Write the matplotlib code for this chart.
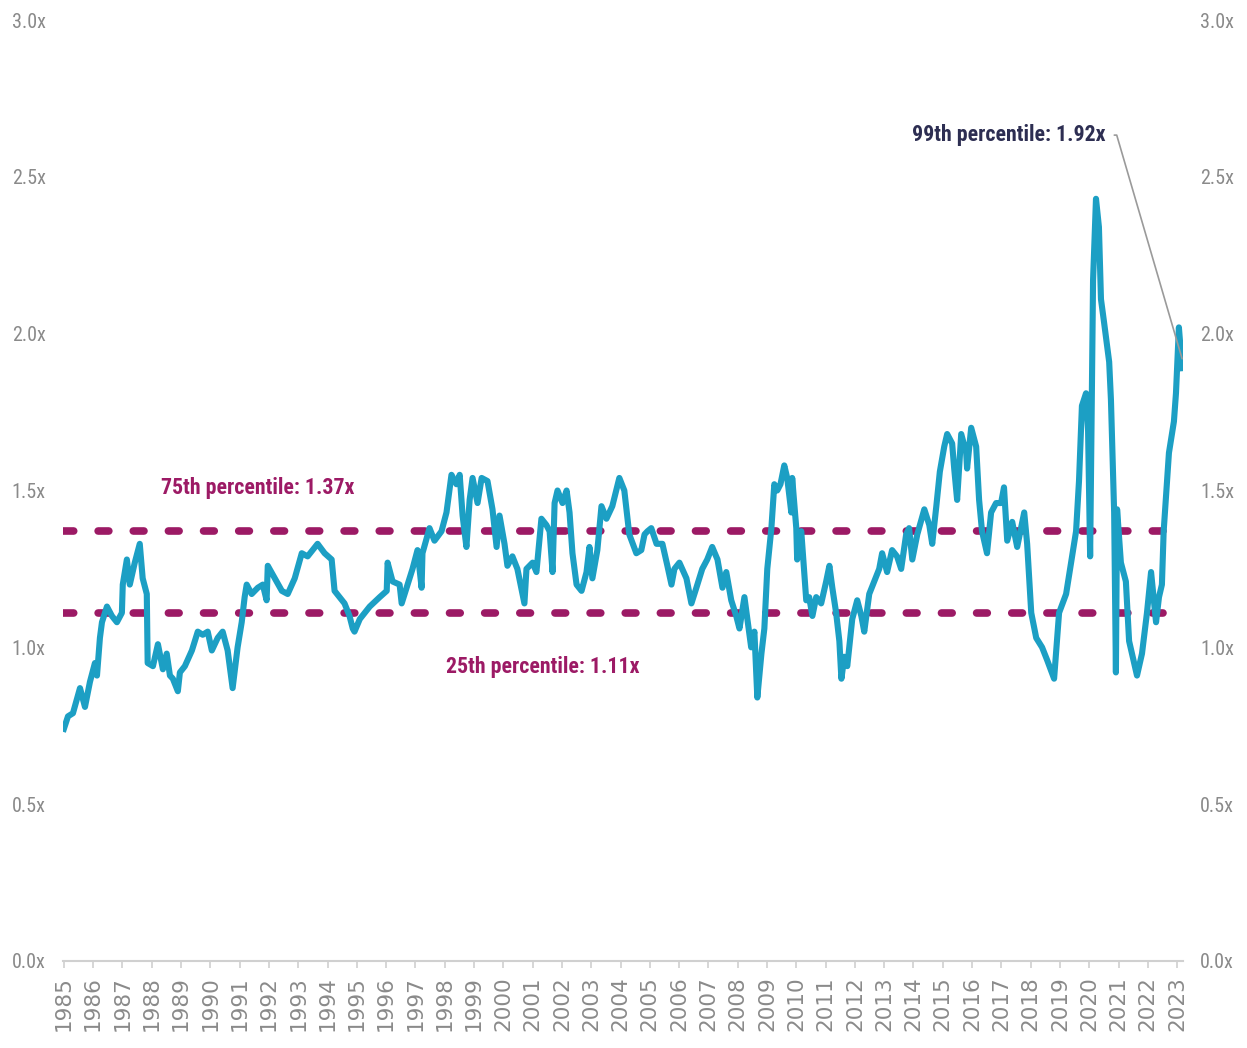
import matplotlib
matplotlib.use("Agg")
import matplotlib.pyplot as plt
from matplotlib import font_manager

# ---- data ----
years = [
    1985.00, 1985.14, 1985.31, 1985.55, 1985.72, 1985.89, 1986.06, 1986.13, 1986.23, 1986.30,
    1986.47, 1986.64, 1986.81, 1986.98, 1987.01, 1987.15, 1987.25, 1987.42, 1987.59, 1987.69,
    1987.83, 1987.86, 1988.04, 1988.21, 1988.38, 1988.51, 1988.62, 1988.72, 1988.89, 1988.96,
    1989.13, 1989.37, 1989.57, 1989.74, 1989.91, 1990.05, 1990.25, 1990.42, 1990.59, 1990.76,
    1990.93, 1991.07, 1991.17, 1991.24, 1991.41, 1991.62, 1991.79, 1991.92, 1991.96, 1992.20,
    1992.44, 1992.64, 1992.88, 1993.12, 1993.32, 1993.66, 1993.90, 1994.14, 1994.24, 1994.58,
    1994.75, 1994.86, 1994.92, 1995.10, 1995.44, 1995.78, 1996.02, 1996.05, 1996.22, 1996.46,
    1996.53, 1996.73, 1996.90, 1997.07, 1997.21, 1997.24, 1997.48, 1997.65, 1997.89, 1998.06,
    1998.23, 1998.40, 1998.51, 1998.61, 1998.74, 1998.85, 1998.95, 1999.12, 1999.26, 1999.46,
    1999.63, 1999.77, 1999.87, 2000.04, 2000.14, 2000.31, 2000.48, 2000.72, 2000.79, 2001.00,
    2001.13, 2001.30, 2001.47, 2001.58, 2001.68, 2001.75, 2001.85, 2002.02, 2002.16, 2002.26,
    2002.36, 2002.50, 2002.67, 2002.84, 2002.94, 2003.04, 2003.21, 2003.35, 2003.52, 2003.72,
    2003.96, 2004.13, 2004.30, 2004.54, 2004.71, 2004.82, 2004.92, 2005.05, 2005.23, 2005.43,
    2005.60, 2005.74, 2005.84, 2006.01, 2006.25, 2006.42, 2006.59, 2006.79, 2006.96, 2007.13,
    2007.31, 2007.48, 2007.61, 2007.78, 2007.95, 2008.06, 2008.23, 2008.33, 2008.46, 2008.57,
    2008.67, 2008.81, 2008.91, 2009.01, 2009.15, 2009.25, 2009.35, 2009.46, 2009.59, 2009.69,
    2009.83, 2009.86, 2010.00, 2010.03, 2010.17, 2010.34, 2010.44, 2010.55, 2010.68, 2010.85,
    2011.02, 2011.13, 2011.23, 2011.36, 2011.47, 2011.54, 2011.64, 2011.74, 2011.91, 2012.08,
    2012.22, 2012.32, 2012.49, 2012.66, 2012.83, 2012.93, 2013.10, 2013.27, 2013.44, 2013.58,
    2013.75, 2013.85, 2013.96, 2014.13, 2014.37, 2014.54, 2014.64, 2014.78, 2014.90, 2015.05,
    2015.15, 2015.32, 2015.39, 2015.49, 2015.63, 2015.80, 2015.83, 2015.97, 2016.14, 2016.24,
    2016.34, 2016.51, 2016.65, 2016.82, 2016.99, 2017.09, 2017.20, 2017.37, 2017.54, 2017.78,
    2017.88, 2018.02, 2018.19, 2018.39, 2018.56, 2018.80, 2018.97, 2019.21, 2019.38, 2019.55,
    2019.65, 2019.75, 2019.89, 2019.96, 2020.03, 2020.13, 2020.23, 2020.33, 2020.40, 2020.50,
    2020.68, 2020.74, 2020.85, 2020.91, 2020.95, 2021.08, 2021.25, 2021.36, 2021.53, 2021.63,
    2021.80, 2021.97, 2022.11, 2022.28, 2022.38, 2022.48, 2022.54, 2022.72, 2022.89, 2022.96,
    2023.06, 2023.17,
]
ratio = [
    0.74, 0.78, 0.79, 0.87, 0.81, 0.89, 0.95, 0.91, 1.03, 1.08,
    1.13, 1.10, 1.08, 1.11, 1.20, 1.28, 1.20, 1.27, 1.33, 1.22,
    1.17, 0.95, 0.94, 1.01, 0.93, 0.98, 0.91, 0.90, 0.86, 0.92,
    0.94, 0.99, 1.05, 1.04, 1.05, 0.99, 1.03, 1.05, 0.99, 0.87,
    1.00, 1.08, 1.16, 1.20, 1.17, 1.19, 1.20, 1.15, 1.26, 1.22,
    1.18, 1.17, 1.22, 1.30, 1.29, 1.33, 1.30, 1.28, 1.18, 1.14,
    1.10, 1.06, 1.05, 1.09, 1.13, 1.16, 1.18, 1.27, 1.21, 1.20,
    1.14, 1.20, 1.25, 1.31, 1.19, 1.30, 1.38, 1.34, 1.37, 1.43,
    1.55, 1.52, 1.55, 1.42, 1.32, 1.47, 1.54, 1.46, 1.54, 1.53,
    1.44, 1.32, 1.42, 1.33, 1.26, 1.29, 1.25, 1.14, 1.25, 1.27,
    1.24, 1.41, 1.39, 1.37, 1.24, 1.46, 1.50, 1.46, 1.50, 1.43,
    1.30, 1.20, 1.18, 1.24, 1.32, 1.22, 1.31, 1.45, 1.41, 1.45,
    1.54, 1.50, 1.36, 1.30, 1.31, 1.36, 1.37, 1.38, 1.33, 1.33,
    1.26, 1.20, 1.25, 1.27, 1.22, 1.14, 1.19, 1.25, 1.28, 1.32,
    1.28, 1.19, 1.24, 1.15, 1.10, 1.06, 1.16, 1.09, 1.00, 1.05,
    0.84, 0.98, 1.06, 1.25, 1.38, 1.52, 1.50, 1.52, 1.58, 1.54,
    1.43, 1.54, 1.38, 1.28, 1.37, 1.15, 1.16, 1.10, 1.16, 1.14,
    1.21, 1.26, 1.19, 1.11, 1.02, 0.90, 0.97, 0.94, 1.09, 1.15,
    1.10, 1.05, 1.17, 1.21, 1.25, 1.30, 1.24, 1.31, 1.29, 1.25,
    1.36, 1.38, 1.28, 1.36, 1.44, 1.39, 1.33, 1.45, 1.56, 1.64,
    1.68, 1.65, 1.57, 1.47, 1.68, 1.62, 1.57, 1.70, 1.64, 1.47,
    1.37, 1.30, 1.43, 1.46, 1.46, 1.51, 1.34, 1.40, 1.32, 1.43,
    1.33, 1.11, 1.03, 1.00, 0.96, 0.90, 1.11, 1.17, 1.27, 1.37,
    1.53, 1.77, 1.81, 1.69, 1.29, 2.17, 2.43, 2.34, 2.11, 2.04,
    1.91, 1.79, 1.43, 0.92, 1.44, 1.27, 1.21, 1.02, 0.95, 0.91,
    0.98, 1.11, 1.24, 1.08, 1.16, 1.20, 1.37, 1.62, 1.72, 1.81,
    2.02, 1.89,
]
p75 = 1.37
p25 = 1.11
p99 = 1.92
tick_years = list(range(1985, 2024))
y_ticks = [0.0, 0.5, 1.0, 1.5, 2.0, 2.5, 3.0]
y_labels = ["0.0x", "0.5x", "1.0x", "1.5x", "2.0x", "2.5x", "3.0x"]

# ---- pick a condensed font if one is installed ----
cond_family, cond_stretch = "Liberation Sans", "normal"
_cands = []
for f in font_manager.fontManager.ttflist:
    st = str(f.stretch).lower()
    if ("Condensed" in f.name or "Narrow" in f.name
            or st in ("condensed", "semi-condensed", "extra-condensed")
            or (st.isdigit() and int(st) < 500)):
        _cands.append(f)
if _cands:
    pref = ["Roboto Condensed", "Liberation Sans Narrow", "Open Sans Condensed",
            "Noto Sans", "Open Sans", "Roboto", "DejaVu Sans"]
    _cands.sort(key=lambda f: next((i for i, p in enumerate(pref) if p in f.name), 99))
    cond_family = _cands[0].name
    cond_stretch = _cands[0].stretch

LINE = "#1c9fc4"
MAG = "#9c1a65"
NAVY = "#2d2e52"
GREY = "#8a8a8a"

fig = plt.figure(figsize=(12.47, 10.48), dpi=100)
renderer = fig.canvas.get_renderer()


def fit_size(s, target_px, **kw):
    t = fig.text(0, 0, s, fontsize=20, **kw)
    w = t.get_window_extent(renderer=renderer).width
    t.remove()
    return 20 * target_px / w


ax = fig.add_axes([63 / 1247, 87 / 1048, (1183 - 63) / 1247, (961 - 20) / 1048])
ax.set_xlim(1984.97, 2023.2)
ax.set_ylim(0, 3.0)

ax.axhline(p75, color=MAG, lw=5.5, dashes=(1.4, 3.2), dash_capstyle="round", zorder=2)
ax.axhline(p25, color=MAG, lw=5.5, dashes=(1.4, 3.2), dash_capstyle="round", zorder=2)
ax.plot(years, ratio, color=LINE, lw=4.4, solid_joinstyle="round", zorder=3)

for s in ["top", "left", "right"]:
    ax.spines[s].set_visible(False)
ax.spines["bottom"].set_color("#d0d0d0")
ax.spines["bottom"].set_linewidth(1.5)

ax.set_xticks(tick_years)
ax.set_xticklabels([str(y) for y in tick_years], rotation=90, fontsize=15.5,
                   color="#8a8a8a", family="DejaVu Sans")
ax.tick_params(axis="x", length=5, color="#d0d0d0", width=1.2, pad=6)

ykw = dict(family=cond_family, stretch=cond_stretch)
ysize = fit_size("3.0x", 34, **ykw)
ax.set_yticks(y_ticks)
ax.set_yticklabels(y_labels, fontsize=ysize, color=GREY, **ykw)
ax.tick_params(axis="y", length=0, pad=12.5, labelright=True, labelleft=True)

akw = dict(family=cond_family, stretch=cond_stretch, fontweight="bold")
asize = fit_size(f"75th percentile: {p75:.2f}x", 193, **akw)

ax.text(1991.62, 1.508, f"75th percentile: {p75:.2f}x", color=MAG, fontsize=asize,
        ha="center", va="center", **akw)
ax.text(2001.34, 0.937, f"25th percentile: {p25:.2f}x", color=MAG, fontsize=asize,
        ha="center", va="center", **akw)
ax.annotate(f"99th percentile: {p99:.2f}x", xy=(years[-1], p99), xytext=(2020.57, 2.633),
            color=NAVY, fontsize=asize, ha="right", va="center", **akw,
            arrowprops=dict(arrowstyle="-", color="#9a9a9a", lw=1.2,
                            shrinkA=4, shrinkB=0, relpos=(1, 0.5),
                            connectionstyle="angle,angleA=0,angleB=-73.7,rad=0"))

fig.savefig("out.png", dpi=100, facecolor="white")
